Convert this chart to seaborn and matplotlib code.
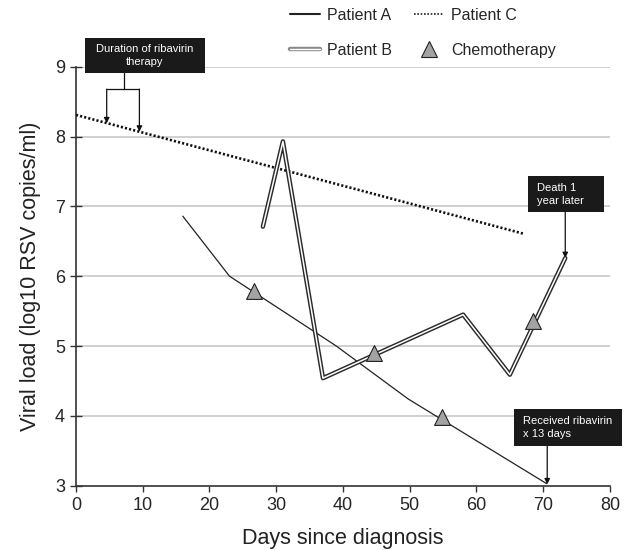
import matplotlib
matplotlib.use("Agg")
import matplotlib.pyplot as plt
import matplotlib.patheffects as pe
from matplotlib.lines import Line2D
from matplotlib.patches import Rectangle
import seaborn as sns
import pandas as pd

# ---- data ----
patient_a_days = [16, 23, 39, 49.8, 70.5]
patient_a_load = [6.86, 6.0, 5.0, 4.24, 3.03]

patient_b_days = [28.0, 31.0, 37.0, 58.0, 65.0, 73.3]
patient_b_load = [6.71, 7.93, 4.54, 5.45, 4.59, 6.26]

patient_c_days = [0, 67]
patient_c_load = [8.31, 6.61]

chemo_days = [26.6, 44.6, 54.8, 68.5]
chemo_load = [5.79, 4.90, 3.99, 5.36]

x_ticks = [0, 10, 20, 30, 40, 50, 60, 70, 80]
y_ticks = [3, 4, 5, 6, 7, 8, 9]

sns.set_style("white")
plt.rcParams["font.family"] = ["Liberation Sans", "DejaVu Sans"]

fig = plt.figure(figsize=(6.26, 5.5), dpi=100)
ax = fig.add_axes([0.1214, 0.1169, 0.9744 - 0.1214, 0.8787 - 0.1169])

df_a = pd.DataFrame({"day": patient_a_days, "load": patient_a_load})
df_b = pd.DataFrame({"day": patient_b_days, "load": patient_b_load})
df_c = pd.DataFrame({"day": patient_c_days, "load": patient_c_load})
df_ch = pd.DataFrame({"day": chemo_days, "load": chemo_load})

for y in y_ticks[1:]:
    ax.axhline(y, color="#c4c4c4", lw=1.1, zorder=0)

sns.lineplot(data=df_a, x="day", y="load", ax=ax, color="#222222", lw=0.9, zorder=3)
sns.lineplot(data=df_c, x="day", y="load", ax=ax, color="#111111", lw=1.9,
             linestyle=(0, (0.8, 0.8)), zorder=3)
b_effects = [pe.Stroke(linewidth=3.2, foreground="#2a2a2a"), pe.Normal()]
sns.lineplot(data=df_b, x="day", y="load", ax=ax, color="white", lw=1.1,
             path_effects=b_effects, zorder=4)
sns.scatterplot(data=df_ch, x="day", y="load", ax=ax, marker="^", s=130,
                color="#a3a3a3", edgecolor="#222222", linewidth=0.8, zorder=5)

ax.set_xlim(0, 80)
ax.set_ylim(3, 9)
ax.set_xticks(x_ticks)
ax.set_yticks(y_ticks)
ax.tick_params(axis="x", direction="out", length=4, width=1, color="#333333",
               labelsize=13, pad=4, bottom=True)
ax.tick_params(axis="y", direction="inout", length=8, width=1, color="#333333",
               labelsize=13, pad=4, left=True)
for s in ["top", "right"]:
    ax.spines[s].set_visible(False)
for s in ["left", "bottom"]:
    ax.spines[s].set_color("#333333")
    ax.spines[s].set_linewidth(1.2)

ax.set_xlabel("Days since diagnosis", fontsize=15.5, color="#222222", labelpad=10)
ax.set_ylabel("Viral load (log10 RSV copies/ml)", fontsize=15.5, color="#222222", labelpad=10)

# ---- legend ----
h_a = Line2D([], [], color="#222222", lw=1.5)
h_b = Line2D([], [], color="white", lw=1.0,
             path_effects=[pe.Stroke(linewidth=3.2, foreground="#888888"), pe.Normal()])
h_c = Line2D([], [], color="#222222", lw=1.2, linestyle=(0, (1, 1)))
h_ch = Line2D([], [], color="none", marker="^", markersize=12,
              markerfacecolor="#a3a3a3", markeredgecolor="#222222", markeredgewidth=0.8)
fig.legend([h_a, h_b, h_c, h_ch], ["Patient A", "Patient B", "Patient C", "Chemotherapy"],
           loc="upper left", bbox_to_anchor=(0.463, 0.986), ncol=2, frameon=False,
           fontsize=11.5, handlelength=1.9, handletextpad=0.45, columnspacing=1.35,
           labelspacing=1.25, borderpad=0, borderaxespad=0)

# ---- annotations ----
def box(x0, y0, x1, y1):
    ax.add_patch(Rectangle((x0, y1), x1 - x0, y0 - y1, facecolor="#1a1a1a",
                           edgecolor="none", clip_on=False, zorder=6))

arrow = dict(arrowstyle="-|>", color="#111111", lw=0.9, mutation_scale=8,
             shrinkA=0, shrinkB=0)

# Duration of ribavirin therapy
box(1.35, 9.415, 19.33, 8.914)
ax.text(10.3, 9.165, "Duration of ribavirin\ntherapy", color="white", fontsize=8,
        ha="center", va="center", linespacing=1.35, zorder=7, clip_on=False)
ax.plot([7.24, 7.24], [8.914, 8.68], color="#111111", lw=0.9, clip_on=False, zorder=6)
ax.plot([4.6, 9.5], [8.68, 8.68], color="#111111", lw=0.9, clip_on=False, zorder=6)
ax.annotate("", xy=(4.6, 8.19), xytext=(4.6, 8.68), arrowprops=arrow, annotation_clip=False)
ax.annotate("", xy=(9.5, 8.07), xytext=(9.5, 8.68), arrowprops=arrow, annotation_clip=False)

# Death 1 year later
box(67.76, 7.43, 79.1, 6.92)
ax.text(69.0, 7.175, "Death 1\nyear later", color="white", fontsize=8,
        ha="left", va="center", linespacing=1.35, zorder=7, clip_on=False)
ax.annotate("", xy=(73.3, 6.26), xytext=(73.3, 6.92), arrowprops=arrow, annotation_clip=False)

# Received ribavirin x 13 days
box(65.6, 4.093, 81.75, 3.568)
ax.text(66.97, 3.83, "Received ribavirin\nx 13 days", color="white", fontsize=8,
        ha="left", va="center", linespacing=1.35, zorder=7, clip_on=False)
ax.annotate("", xy=(70.6, 3.02), xytext=(70.6, 3.568), arrowprops=arrow, annotation_clip=False)

fig.savefig("out.png", dpi=100)
